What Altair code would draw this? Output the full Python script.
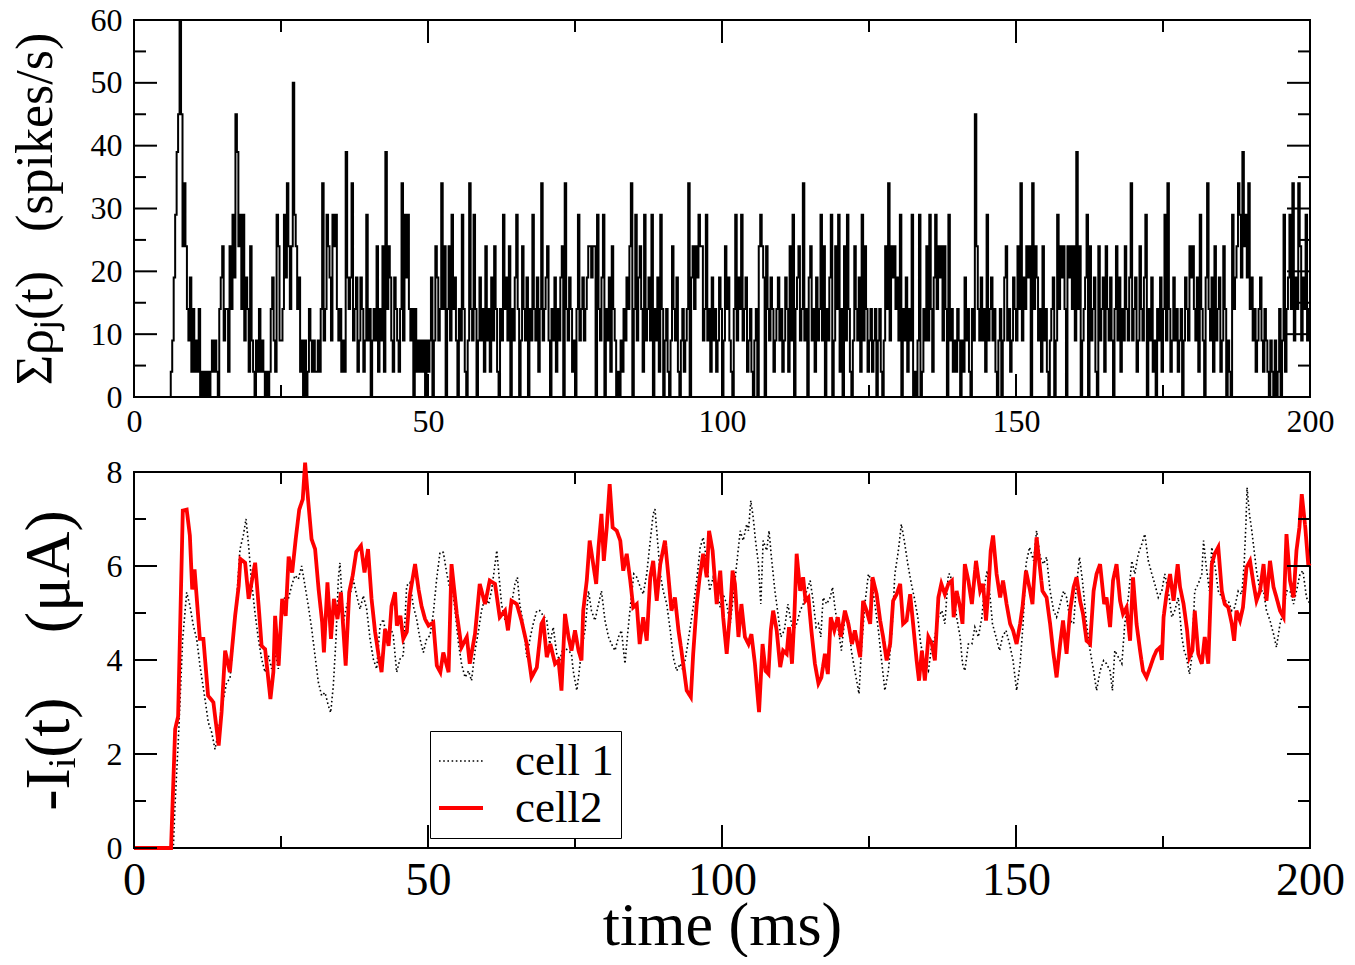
import altair as alt
import pandas as pd

FONT = "Liberation Serif"
W = 1176
H1 = 377
H2 = 376

# ---------------- tick values ----------------
x_major = [0, 50, 100, 150, 200]
x_minor = [25, 75, 125, 175]
top_y_major = [0, 10, 20, 30, 40, 50, 60]
top_y_minor = [5, 15, 25, 35, 45, 55]
bot_y_major = [0, 2, 4, 6, 8]
bot_y_minor = [1, 3, 5, 7]

# ---------------- top panel: population rate (spikes/s), sampled every 0.25 ms ----------------
DT = 0.25
top_rate = (
    [0] * 20 +
    [0, 0, 0, 0, 0, 4, 9, 19, 29, 39, 45, 60, 45, 24, 34, 24, 14, 9, 19, 4] +
    [14, 4, 9, 4, 14, 0, 4, 0, 4, 0, 4, 0, 4, 9, 4, 9, 4, 0, 14, 19] +
    [24, 9, 14, 14, 4, 24, 14, 29, 19, 45, 39, 24, 29, 14, 29, 9, 19, 14, 4, 24] +
    [9, 4, 0, 9, 4, 14, 4, 9, 4, 0, 4, 0, 4, 14, 19, 9, 4, 29, 24, 9] +
    [9, 14, 29, 19, 34, 24, 14, 24, 50, 29, 24, 14, 19, 4, 9, 0, 9, 0, 4, 14] +
    [9, 4, 9, 4, 4, 9, 4, 14, 34, 9, 14, 29, 24, 19, 9, 29, 24, 29, 14, 9] +
    [14, 4, 9, 4, 39, 19, 14, 19, 34, 9, 14, 19, 4, 9, 19, 14, 4, 9, 29, 9] +
    [14, 0, 9, 14, 9, 24, 4, 14, 9, 24, 4, 39, 14, 24, 19, 9, 4, 19, 14, 9] +
    [4, 14, 34, 9, 29, 19, 29, 14, 9, 14, 0, 14, 4, 9, 4, 9, 4, 9, 0, 9] +
    [4, 9, 19, 0, 9, 24, 19, 9, 14, 34, 14, 24, 0, 14, 24, 9, 29, 14, 19, 9] +
    [0, 14, 9, 29, 14, 4, 0, 9, 34, 14, 9, 29, 14, 0, 9, 19, 9, 14, 4, 24] +
    [9, 14, 4, 19, 9, 24, 14, 4, 0, 14, 9, 29, 14, 19, 9, 24, 0, 14, 9, 19] +
    [29, 14, 0, 9, 24, 14, 9, 19, 0, 14, 9, 29, 14, 9, 19, 4, 14, 34, 9, 14] +
    [19, 24, 9, 0, 14, 9, 19, 4, 14, 9, 19, 24, 0, 34, 14, 9, 19, 14, 4, 9] +
    [0, 14, 29, 9, 14, 19, 9, 14, 19, 24, 24, 19, 24, 24, 0, 29, 14, 9, 19, 29] +
    [0, 14, 9, 19, 4, 24, 14, 9, 0, 4, 0, 9, 4, 14, 9, 19, 14, 24, 34, 0] +
    [14, 29, 9, 19, 24, 14, 4, 29, 9, 14, 19, 9, 29, 0, 14, 9, 19, 4, 29, 14] +
    [0, 9, 14, 4, 0, 9, 24, 14, 9, 19, 4, 0, 9, 14, 4, 9, 14, 34, 0, 19] +
    [24, 14, 24, 19, 29, 24, 24, 9, 14, 29, 9, 14, 4, 19, 9, 14, 4, 9, 19, 14] +
    [0, 9, 24, 14, 19, 9, 4, 0, 14, 29, 9, 19, 14, 29, 9, 14, 19, 4, 9, 14] +
    [4, 0, 9, 14, 0, 24, 29, 24, 19, 0, 24, 14, 9, 19, 14, 4, 9, 14, 19, 9] +
    [14, 4, 9, 19, 14, 4, 24, 9, 29, 0, 14, 19, 24, 9, 14, 34, 9, 14, 0, 19] +
    [24, 9, 14, 4, 19, 9, 14, 29, 9, 24, 0, 14, 9, 19, 29, 0, 9, 24, 14, 29] +
    [4, 14, 0, 24, 9, 29, 14, 4, 0, 9, 24, 14, 9, 19, 4, 29, 9, 24, 14, 4] +
    [9, 14, 4, 9, 14, 0, 9, 14, 4, 0, 9, 24, 14, 34, 9, 24, 19, 24, 14, 19] +
    [9, 29, 0, 14, 9, 19, 4, 14, 9, 29, 0, 4, 0, 9, 29, 0, 4, 14, 9, 24] +
    [9, 29, 14, 4, 19, 29, 14, 24, 19, 24, 9, 24, 14, 0, 29, 9, 14, 4, 9, 4] +
    [14, 9, 0, 9, 4, 19, 9, 14, 4, 0, 14, 9, 45, 24, 14, 9, 19, 9, 14, 4] +
    [29, 9, 14, 19, 9, 14, 4, 0, 9, 14, 0, 9, 19, 24, 9, 14, 4, 9, 19, 14] +
    [9, 24, 14, 34, 9, 19, 14, 24, 19, 24, 0, 34, 14, 24, 19, 9, 14, 4, 24, 9] +
    [14, 4, 0, 9, 14, 19, 0, 9, 29, 14, 24, 19, 24, 14, 0, 24, 19, 24, 14, 24] +
    [9, 39, 14, 24, 0, 9, 14, 19, 29, 0, 24, 9, 14, 19, 4, 0, 24, 9, 14, 19] +
    [4, 24, 14, 9, 19, 9, 0, 14, 24, 9, 19, 4, 14, 9, 24, 14, 9, 19, 34, 9] +
    [14, 19, 4, 9, 24, 14, 9, 19, 29, 0, 14, 9, 19, 4, 9, 0, 14, 9, 19, 4] +
    [14, 29, 9, 34, 14, 4, 9, 19, 9, 14, 4, 9, 14, 0, 9, 19, 14, 9, 24, 19] +
    [24, 14, 9, 19, 4, 29, 14, 9, 0, 19, 34, 14, 9, 19, 4, 24, 9, 14, 19, 4] +
    [9, 24, 14, 0, 9, 4, 0, 29, 14, 19, 24, 34, 29, 19, 39, 24, 29, 19, 34, 14] +
    [19, 9, 14, 4, 9, 14, 19, 9, 4, 14, 9, 4, 0, 9, 4, 0, 9, 0, 4, 14] +
    [0, 9, 29, 4, 14, 19, 29, 14, 34, 9, 19, 14, 34, 24, 9, 19, 14, 29, 9, 14] +
    [9]
)
top_time = [i * DT for i in range(len(top_rate))]

# ---------------- bottom panel: synaptic currents (uA) ----------------
cell1_t = [0, 6.69, 6.97, 7.54, 8.28, 8.96, 9.52, 10.09, 10.66, 11.22, 12.07, 12.64, 13.21, 13.78, 14.34,
           14.91, 15.76, 16.33, 16.89, 17.46, 18.03, 18.59, 19.05, 19.44, 20.01, 20.58, 21.15, 21.71,
           22.28, 22.85, 23.41, 23.98, 24.55, 25.11, 25.68, 26.25, 26.81, 27.38, 27.95, 28.51, 29.08,
           29.65, 30.22, 30.78, 31.35, 31.92, 32.48, 33.05, 33.45, 33.9, 34.35, 34.75, 35.03, 35.6,
           36.17, 36.73, 37.3, 37.87, 38.44, 39.0, 39.57, 40.14, 40.7, 41.27, 41.84, 42.4, 42.97, 43.54,
           44.1, 44.67, 45.24, 45.8, 46.37, 46.94, 47.5, 48.07, 48.64, 49.21, 49.77, 50.34, 50.91, 51.47,
           52.04, 52.61, 53.17, 53.74,
           54.0, 54.6, 55.2, 55.7, 56.3, 56.9, 57.4, 58.0, 58.6, 59.1, 59.7, 60.3, 60.8, 61.4, 61.7, 62.0,
           62.5, 63.1, 63.7, 64.2, 64.8, 65.2, 65.6, 66.2, 66.8, 67.4, 67.9, 68.5, 69.0,
           70.2, 70.7, 71.3, 71.9, 72.4, 73.0, 73.9, 74.4, 74.7, 75.3, 75.6, 76.1, 76.7, 77.3, 77.8, 78.4,
           79.0, 79.5, 80.1, 80.7, 81.2, 81.8, 82.4, 82.9, 83.5, 83.9, 84.4, 85.0, 85.5, 86.1, 86.6, 87.2,
           87.8, 88.3, 88.6, 88.9, 89.5, 90.0, 90.6, 91.2, 91.7, 92.3, 92.9, 93.4, 94.0, 94.6, 95.1, 95.7,
           96.3, 96.8, 97.4, 97.9, 98.5, 99.1, 99.7, 100.2, 100.8, 101.4, 101.9, 102.5, 103.1, 103.6, 104.2,
           104.5, 104.9, 105.3, 105.7, 106.2, 106.6, 107.0, 107.6, 108.0, 108.4, 109.0, 109.6, 110.0, 110.6,
           111.2, 111.6, 112.1, 112.7, 113.3, 113.8, 114.4, 115.0, 115.5, 116.0, 116.4, 116.8, 117.2, 117.8,
           118.4, 118.8, 119.2, 119.8, 120.3, 120.9, 121.5, 122.0, 122.6, 123.3, 123.7, 124.3, 124.9, 125.4,
           126.0, 126.6, 127.2, 127.7, 128.3, 128.9, 129.4, 130.0, 130.5, 131.0, 131.6, 132.2, 132.7, 133.3,
           133.8, 134.5, 135.1, 135.7, 136.2, 136.8, 137.4, 137.9, 138.5,
           138.8, 139.3, 139.9, 140.5, 140.9, 141.3, 141.9, 142.5, 143.0, 143.6, 144.2, 144.7, 145.1, 145.6,
           146.0, 146.6, 147.2, 147.7, 148.3, 148.9, 149.5, 150.1, 150.7, 151.2, 151.7, 152.3, 153.0, 153.5,
           154.1, 154.7, 155.2, 155.8, 156.4, 156.9, 157.5, 158.1, 158.6, 159.2, 159.8, 160.2, 160.8, 161.3,
           162.0, 162.6, 163.2, 163.7, 164.3, 164.9, 165.4, 166.0, 166.4, 166.8, 167.4, 168.0, 168.5, 169.1,
           169.7, 170.2, 170.8, 171.4, 171.9, 172.5, 173.1, 173.6, 174.2,
           174.8, 175.3, 175.9, 176.5, 177.0, 177.6, 178.2, 178.6, 179.0, 179.5, 179.9, 180.4, 181.0, 181.6,
           181.9, 182.3, 182.9, 183.3, 183.8, 184.4, 185.0, 185.5, 186.1, 186.7, 187.2, 187.8, 188.4, 188.8,
           189.1, 189.3, 189.7, 190.1, 190.5, 190.9, 191.5, 192.1, 192.6, 193.2, 193.8, 194.3, 194.9, 195.5,
           196.0, 196.6, 197.2, 197.7, 198.3, 198.8, 199.4, 200.0]
cell1_v = [0, 0, 0.9, 2.3, 4.45, 5.44, 5.15, 4.73, 4.45, 3.88, 3.17, 2.67, 2.46, 2.1, 2.46,
           2.96, 3.53, 3.6, 4.45, 5.3, 6.36, 6.65, 7.0, 6.5, 5.65, 5.0, 4.45, 4.02,
           3.74, 4.1, 3.81, 4.16, 3.81, 4.94, 5.37, 5.3, 5.58, 5.8, 5.72, 6.0, 5.58,
           5.15, 4.66, 4.1, 3.53, 3.24, 3.31, 3.03, 2.88, 3.46, 4.45, 5.72, 6.07, 4.8,
           5.15, 5.37, 5.72, 5.37, 5.08, 5.37, 5.08, 4.45, 4.02, 3.81, 4.73, 4.87, 4.45, 4.73,
           4.52, 3.74, 4.02, 4.1, 5.58, 5.65, 5.15, 4.87, 4.45, 4.16, 4.45, 4.52, 5.0, 5.72,
           6.29, 6.29, 5.86, 5.5,
           5.69, 5.05, 4.34, 3.92, 3.63, 3.77, 3.56, 4.2, 4.63, 5.05, 5.33, 5.19, 5.47, 6.04, 6.33, 5.9,
           5.19, 4.84, 4.77, 5.19, 5.62, 5.76, 5.19, 4.77, 4.06, 4.49, 4.77, 5.05, 5.05,
           4.84, 4.34, 4.7, 4.13, 3.99, 4.27, 4.2, 4.13, 3.77, 3.35, 3.63, 4.2, 4.63, 5.47, 5.05, 4.84,
           5.19, 5.47, 4.84, 4.49, 4.34, 4.2, 4.49, 4.63, 3.92, 4.49, 5.12, 5.83, 5.76, 5.55, 5.4, 5.83,
           6.54, 7.11, 7.21, 6.75, 5.83, 5.47, 5.19, 4.63, 4.06, 3.77, 3.92, 3.77, 4.2, 4.7, 5.12, 5.69,
           6.4, 6.61, 6.11, 5.47, 5.76, 5.47, 5.12, 5.4, 5.19, 4.77, 5.33, 6.04, 6.75, 6.54, 6.89,
           6.75, 7.39, 7.04, 6.54, 6.04, 5.19, 6.54, 6.33, 6.75, 6.19, 5.47, 4.91, 4.49, 4.63,
           5.19, 4.91, 4.63, 4.77, 5.05, 5.19, 5.47, 5.69, 5.26, 4.7, 4.77, 4.49, 5.33, 5.19,
           5.33, 5.55, 5.12, 4.63, 4.2, 4.91, 4.84, 4.2, 3.77, 3.28, 4.2, 5.19, 5.83, 5.69,
           5.19, 4.63, 3.92, 3.35, 3.77, 4.63, 5.83, 6.33, 6.89, 6.54, 6.04, 5.62, 5.33, 4.91,
           4.34, 3.92, 3.77, 4.34, 4.49, 4.91, 5.05, 4.77, 5.83,
           5.83, 5.47, 4.91, 4.49, 3.92, 3.77, 4.34, 4.34, 4.7, 4.49, 4.91, 5.62, 5.9, 5.33,
           4.77, 4.49, 4.2, 4.49, 4.63, 4.34, 3.99, 3.35, 3.92, 4.77, 6.04, 6.4, 6.11, 6.75,
           6.19, 6.04, 6.19, 5.47, 5.05, 4.91, 5.19, 5.47, 5.33, 4.84, 4.77, 5.47, 6.19, 5.69,
           4.77, 4.2, 3.77, 3.35, 3.77, 3.99, 3.92, 3.77, 3.35, 4.2, 4.06, 3.92, 4.77, 5.33,
           6.11, 5.83, 6.26, 6.47, 6.68, 6.11, 5.83, 5.62, 5.33,
           5.47, 5.83, 5.47, 4.91, 5.05, 5.33, 4.49, 4.2, 4.06, 3.7, 4.06, 5.47, 5.62, 5.83,
           6.54, 6.04, 5.47, 6.4, 6.04, 5.47, 5.33, 5.26, 5.26, 5.05, 5.12, 5.47, 5.4, 6.04,
           6.89, 7.67, 7.11, 6.75, 6.33, 5.9, 5.47, 5.47, 5.05, 4.84, 4.55, 4.27, 4.77, 5.05,
           5.47, 5.47, 5.19, 5.47, 5.83, 5.9, 5.33, 5.19]

cell2_t = [0, 6.3, 7.0, 7.5, 8.3, 8.96, 9.5, 9.9, 10.3, 11.2, 11.8, 12.6, 13.5, 14.4, 14.9, 15.5, 16.3,
           17.2, 17.8, 18.1, 18.9, 19.5, 20.1, 20.6, 21.2, 21.7, 22.3, 23.2, 23.7, 24.0, 24.6, 25.2, 25.8,
           26.3, 26.9, 27.5, 28.1, 28.7, 29.1, 29.6, 30.2, 30.8, 31.4, 32.0, 32.3, 32.9, 33.5, 34.0, 34.6,
           35.2, 36.0, 36.6, 37.2, 37.8, 38.6, 39.2, 39.8, 40.4, 41.0, 41.6, 42.1, 42.7, 43.3, 43.8, 44.4,
           44.7, 45.3, 45.8, 46.4, 46.9, 47.8, 48.4, 48.9, 49.5, 50.1, 50.9, 51.5, 52.1, 52.6, 53.5,
           54.0, 54.9, 55.7, 56.6, 57.1, 58.0, 58.8, 59.7, 60.5, 61.4, 62.2, 63.1, 63.6, 64.2, 65.1, 65.9,
           66.8, 67.6, 68.5, 69.3,
           69.6, 70.2, 70.8, 71.6, 72.2, 72.7, 73.3, 73.9, 74.4, 75.0, 75.6, 76.1, 76.4, 77.0, 77.5, 78.1,
           78.6, 79.0, 79.5, 79.9, 80.4, 80.9, 81.4, 82.1, 82.7, 83.2, 83.8, 84.4, 84.9, 85.5, 86.0, 86.6,
           87.2, 87.8, 88.3, 88.9, 89.5, 90.3, 90.9, 91.4, 92.0, 92.6, 93.1, 94.0, 94.7, 95.1, 95.7, 96.2,
           96.8, 97.4, 97.8, 98.4, 99.1, 99.7, 100.2, 100.8, 101.4, 101.8, 102.2, 102.8, 103.3, 103.9,
           104.5, 105.0, 105.6, 106.3, 106.9, 107.4, 107.9, 108.3, 108.7, 109.3, 109.9, 110.4, 111.0, 111.4,
           111.9, 112.3, 112.7, 113.3, 113.8, 114.2, 114.7, 115.2, 115.8, 116.4, 116.9, 117.5, 118.0, 118.5,
           119.1, 119.7, 120.2, 120.9, 121.5, 122.1, 122.6, 123.5, 124.0, 124.6, 125.2, 125.6, 126.3, 126.9,
           127.4, 128.0, 128.6, 129.1, 129.7, 130.3, 130.8, 131.4, 132.0, 132.5, 133.1, 133.5, 134.0, 134.5,
           135.1, 135.7, 136.2, 136.8, 137.3, 137.9, 138.5, 139.1,
           139.4, 139.9, 140.5, 140.9, 141.3, 141.9, 142.5, 143.2, 143.9, 144.4, 144.9, 145.3, 145.7, 146.1,
           146.7, 147.3, 147.8, 148.4, 149.0, 149.5, 150.1, 150.7, 151.1, 151.7, 152.4, 152.8, 153.5, 154.0,
           154.5, 155.2, 155.8, 156.3, 156.9, 157.5, 158.0, 158.6, 159.2, 159.8, 160.3, 160.9, 161.4, 162.0,
           162.6, 163.2, 163.7, 164.3, 165.0, 165.4, 166.0, 166.5, 167.1, 167.7, 168.2, 168.8, 169.4, 169.9,
           170.5, 171.1, 171.6, 172.2, 172.8, 173.4, 173.9, 174.5,
           174.8, 175.1, 175.6, 176.2, 176.8, 177.5, 177.9, 178.5, 179.1, 179.5, 180.0, 180.4, 181.0, 181.6,
           182.1, 182.7, 183.3, 183.8, 184.4, 185.0, 185.5, 186.1, 186.7, 187.1, 187.5, 188.1, 188.6, 189.2,
           189.8, 190.4, 190.9, 191.5, 192.1, 192.6, 193.2, 193.8, 194.3, 194.9, 195.5, 196.0, 196.6, 197.2,
           197.7, 198.2, 198.6, 199.2, 199.7, 200.0]
cell2_v = [0, 0, 2.53, 2.8, 7.18, 7.2, 6.65, 5.5, 5.93, 4.45, 4.45, 3.24, 3.1, 2.18, 2.9, 4.2, 3.74,
           4.94, 5.57, 6.15, 6.07, 5.3, 5.72, 6.07, 5.15, 4.3, 4.23, 3.17, 3.74, 4.94, 3.88, 5.3, 4.94,
           6.2, 5.86, 6.57, 7.2, 7.42, 8.2, 7.42, 6.57, 6.36, 5.5, 4.8, 4.16, 5.65, 4.45, 5.3, 4.87,
           5.44, 3.88, 5.44, 5.8, 6.3, 6.43, 5.86, 6.36, 5.3, 4.6, 4.1, 3.74, 4.66, 4.3, 5.15, 5.44,
           4.73, 4.94, 4.45, 4.6, 5.37, 6.04, 5.5, 5.15, 4.87, 4.73, 4.8, 3.88, 3.74, 4.16, 3.74,
           6.04, 4.98, 4.27, 4.49, 3.92, 4.56, 5.62, 5.19, 5.69, 5.62, 4.91, 5.05, 4.63, 5.26, 5.19, 4.84,
           4.34, 3.63, 3.84, 4.77,
           4.84, 4.06, 4.34, 3.92, 3.99, 3.35, 4.98, 4.49, 4.2, 4.63, 4.2, 3.99, 5.05, 5.69, 6.54, 6.04,
           5.62, 6.4, 7.11, 6.11, 6.82, 7.74, 6.82, 6.75, 6.54, 5.9, 6.26, 5.69, 5.12, 5.19, 4.34, 4.91,
           4.41, 5.76, 6.11, 5.26, 6.04, 6.54, 5.76, 5.05, 5.33, 4.63, 4.2, 3.35, 3.21, 4.13, 5.19, 5.76,
           6.26, 5.76, 6.75, 6.33, 5.19, 5.9, 4.91, 4.13, 5.05, 5.9, 5.62, 4.49, 5.19, 4.49,
           4.34, 4.55, 3.92, 2.89, 4.34, 3.77, 3.7, 4.63, 5.05, 4.63, 3.85, 4.2, 4.13, 4.7,
           3.92, 4.91, 6.26, 5.47, 5.76, 5.26, 5.33, 4.63, 3.92, 3.5, 3.63, 4.13, 3.7, 4.91,
           4.63, 4.91, 4.49, 5.05, 4.77, 4.34, 4.63, 4.06, 5.26, 5.05, 4.77, 5.76, 5.4, 4.84,
           4.49, 3.99, 4.34, 5.26, 5.4, 5.62, 4.77, 4.84, 5.4, 4.77, 3.99, 3.56, 4.2, 3.56,
           4.49, 4.34, 3.99, 5.33, 5.62, 5.4, 5.62, 5.69,
           4.91, 5.47, 5.12, 4.77, 6.04, 5.69, 5.19, 6.11, 5.47, 5.62, 4.84, 5.47, 6.33, 6.65,
           5.83, 5.33, 5.69, 5.19, 4.77, 4.63, 4.34, 4.77, 5.12, 5.9, 5.47, 5.19, 6.61, 6.04,
           5.47, 5.33, 4.77, 4.2, 3.63, 4.34, 4.84, 4.13, 5.05, 5.55, 5.76, 5.26, 4.98, 4.41,
           4.34, 5.47, 5.83, 6.04, 5.19, 5.33, 4.7, 5.69, 6.04, 5.26, 4.98, 5.12, 4.41, 5.76,
           4.77, 4.2, 3.77, 3.63, 3.84, 4.06, 4.2, 4.27,
           4.0, 4.91, 5.4, 5.83, 5.26, 6.04, 5.55, 5.19, 4.63, 4.06, 4.2, 5.05, 4.13, 3.92,
           4.49, 3.92, 6.04, 6.26, 6.4, 5.47, 5.19, 5.12, 4.77, 4.41, 5.05, 4.84, 5.12, 5.97,
           6.11, 5.62, 5.26, 5.47, 6.04, 5.26, 6.11, 5.55, 5.33, 5.05, 4.91, 6.68, 5.69, 5.33,
           6.33, 6.82, 7.53, 6.82, 6.04, 6.0]

cells = ["cell 1", "cell2"]

top_df = pd.DataFrame({"t": top_time, "r": top_rate})
bot_df = pd.concat([
    pd.DataFrame({"t": cell1_t, "v": cell1_v, "cell": cells[0]}),
    pd.DataFrame({"t": cell2_t, "v": cell2_v, "cell": cells[1]}),
], ignore_index=True)

# ---------------- scales / axes ----------------
xs = alt.Scale(domain=[0, 200], nice=False, zero=False)
ys1 = alt.Scale(domain=[0, 60], nice=False)
ys2 = alt.Scale(domain=[0, 8], nice=False)

NB = "\u00a0"
common = dict(ticks=False, domain=False, grid=False, labelFont=FONT, labelColor="black",
              labelFlush=False, labelOverlap=False, format="d")
ax_top_x = alt.Axis(values=x_major, title=None, labelFontSize=32, labelPadding=9, **common)
ax_top_y = alt.Axis(values=top_y_major, title="Σρⱼ(t)" + NB * 3 + "(spikes/s)", labelFontSize=32,
                    labelPadding=12, titleFont=FONT, titleFontSize=52, titleFontWeight="normal",
                    titleColor="black", titlePadding=28, **common)
ax_bot_x = alt.Axis(values=x_major, title="time (ms)", labelFontSize=46, labelPadding=10,
                    titleFont=FONT, titleFontSize=62, titleFontWeight="normal", titleColor="black",
                    titlePadding=-8, **common)
ax_bot_y = alt.Axis(values=bot_y_major, title="-Iᵢ(t)" + NB * 4 + "(μA)", labelFontSize=32,
                    labelPadding=12, titleFont=FONT, titleFontSize=64, titleFontWeight="normal",
                    titleColor="black", titlePadding=25, **common)

MAJ, MIN = 23, 12


def tick_layers(xfield, yfield, xaxis, yaxis, yscale, xmaj, xmin, ymaj, ymin, h):
    layers = []
    for vals, ln in ((ymaj, MAJ), (ymin, MIN)):
        df = pd.DataFrame({yfield: vals})
        for x0, x1 in ((0, ln), (W, W - ln)):
            layers.append(alt.Chart(df).mark_rule(color="black", strokeWidth=2).encode(
                y=alt.Y(f"{yfield}:Q", scale=yscale, axis=yaxis),
                x=alt.value(x0), x2=alt.value(x1)))
    for vals, ln in ((xmaj, MAJ), (xmin, MIN)):
        df = pd.DataFrame({xfield: vals})
        for y0, y1 in ((h, h - ln), (0, ln)):
            layers.append(alt.Chart(df).mark_rule(color="black", strokeWidth=2).encode(
                x=alt.X(f"{xfield}:Q", scale=xs, axis=xaxis),
                y=alt.value(y0), y2=alt.value(y1)))
    return layers


top_line = alt.Chart(top_df).mark_line(color="black", strokeWidth=2.0, interpolate="step-after").encode(
    x=alt.X("t:Q", scale=xs, axis=ax_top_x),
    y=alt.Y("r:Q", scale=ys1, axis=ax_top_y),
)

leg = alt.Legend(title=None, orient="none", legendX=296, legendY=711, direction="vertical",
                 symbolType="stroke", symbolSize=1936, labelFont=FONT, labelFontSize=45,
                 labelColor="black", labelOffset=30, padding=7, rowPadding=0,
                 strokeColor="black", fillColor="white")

cell_lines = alt.Chart(bot_df).mark_line().encode(
    x=alt.X("t:Q", scale=xs, axis=ax_bot_x),
    y=alt.Y("v:Q", scale=ys2, axis=ax_bot_y),
    color=alt.Color("cell:N", scale=alt.Scale(domain=cells, range=["black", "#ff0000"]), legend=leg),
    strokeDash=alt.StrokeDash("cell:N", scale=alt.Scale(domain=cells, range=[[1.6, 2.6], [1, 0]]), legend=leg),
    strokeWidth=alt.StrokeWidth("cell:N", scale=alt.Scale(domain=cells, range=[1.6, 3.8]), legend=leg),
    order=alt.Order("t:Q"),
)

top = alt.layer(top_line, *tick_layers("t", "r", ax_top_x, ax_top_y, ys1, x_major, x_minor,
                                       top_y_major, top_y_minor, H1)).properties(width=W, height=H1)
bot = alt.layer(cell_lines, *tick_layers("t", "v", ax_bot_x, ax_bot_y, ys2, x_major, x_minor,
                                         bot_y_major, bot_y_minor, H2)).properties(width=W, height=H2)

chart = alt.vconcat(top, bot, spacing=16).properties(
    padding={"left": 0, "top": -5, "right": 0, "bottom": 0}
).configure_view(stroke="black", strokeWidth=2)

chart.save("out.html", embed_options={"renderer": "svg", "actions": False})
